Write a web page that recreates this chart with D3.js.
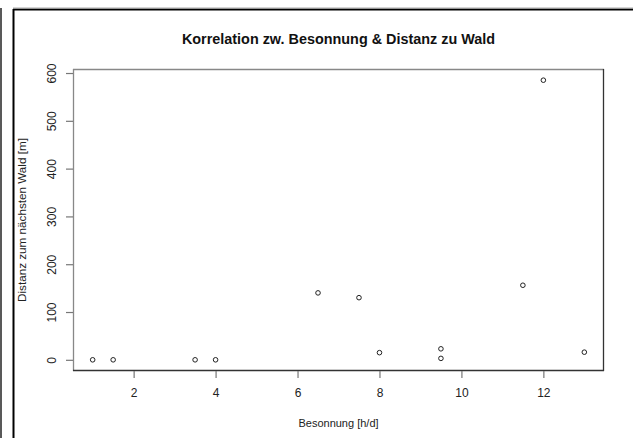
<!DOCTYPE html>
<html>
<head>
<meta charset="utf-8">
<script src="https://cdn.jsdelivr.net/npm/d3@7"></script>
<style>
  html, body { margin: 0; padding: 0; background: #fff; }
  svg { display: block; font-family: "Liberation Sans", Arial, sans-serif; }
</style>
</head>
<body>
<svg id="chart" width="633" height="438"></svg>
<script>
// Data
const besonnung = [1, 1.5, 3.5, 4, 6.5, 7.5, 8, 9.5, 9.5, 11.5, 12, 13];
const distanz   = [0, 0, 0, 0, 140, 130, 15, 23, 3, 156, 585, 16];
const xTicks = [2, 4, 6, 8, 10, 12];
const yTicks = [0, 100, 200, 300, 400, 500, 600];
const title = "Korrelation zw. Besonnung & Distanz zu Wald";
const xLabel = "Besonnung [h/d]";
const yLabel = "Distanz zum nächsten Wald [m]";

const svg = d3.select("#chart");
const W = 633, H = 438;
const plot = { left: 73, right: 604, top: 69, bottom: 371 };

// outer frame lines (screenshot border)
svg.append("line").attr("x1", 1).attr("x2", 1).attr("y1", 8).attr("y2", H)
  .attr("stroke", "#222").attr("stroke-width", 1.5);
svg.append("line").attr("x1", 13.5).attr("x2", 13.5).attr("y1", 9).attr("y2", H)
  .attr("stroke", "#000").attr("stroke-width", 2);
svg.append("line").attr("x1", 13).attr("x2", W).attr("y1", 9.5).attr("y2", 9.5)
  .attr("stroke", "#000").attr("stroke-width", 2);
svg.append("line").attr("x1", 13).attr("x2", W).attr("y1", 8).attr("y2", 8)
  .attr("stroke", "#aaa").attr("stroke-width", 1);

// R-style 4% extension
const xr = d3.extent(besonnung), yr = d3.extent(distanz);
const xpad = (xr[1] - xr[0]) * 0.04, ypad = (yr[1] - yr[0]) * 0.04;
const x = d3.scaleLinear().domain([xr[0] - xpad, xr[1] + xpad]).range([plot.left, plot.right]);
const y = d3.scaleLinear().domain([yr[0] - ypad, yr[1] + ypad]).range([plot.bottom, plot.top]);

// plot box
svg.append("line").attr("x1", plot.left).attr("x2", plot.right).attr("y1", plot.top + 0.5).attr("y2", plot.top + 0.5)
  .attr("stroke", "#888").attr("stroke-width", 1.3);
svg.append("line").attr("x1", plot.left + 0.5).attr("x2", plot.left + 0.5).attr("y1", plot.top).attr("y2", plot.bottom)
  .attr("stroke", "#888").attr("stroke-width", 1.3);
svg.append("line").attr("x1", plot.right - 0.5).attr("x2", plot.right - 0.5).attr("y1", plot.top).attr("y2", plot.bottom)
  .attr("stroke", "#333").attr("stroke-width", 1.3);
svg.append("line").attr("x1", plot.left).attr("x2", plot.right).attr("y1", plot.bottom - 0.5).attr("y2", plot.bottom - 0.5)
  .attr("stroke", "#333").attr("stroke-width", 1.3);

// x axis
const xAxis = svg.append("g").attr("transform", `translate(0,${plot.bottom})`)
  .call(d3.axisBottom(x).tickValues(xTicks).tickSize(7).tickPadding(10).tickFormat(d3.format("d")));
xAxis.select(".domain").remove();
xAxis.selectAll(".tick line").attr("stroke", "#777").attr("stroke-width", 1.2);
xAxis.selectAll(".tick text").attr("fill", "#222").attr("font-size", "12px")
  .attr("font-family", "Liberation Sans, Arial, sans-serif");

// y axis
const yAxis = svg.append("g").attr("transform", `translate(${plot.left},0)`)
  .call(d3.axisLeft(y).tickValues(yTicks).tickSize(7).tickFormat(d3.format("d")));
yAxis.select(".domain").remove();
yAxis.selectAll(".tick line").attr("stroke", "#777").attr("stroke-width", 1.2);
yAxis.selectAll(".tick text").remove();
yAxis.selectAll(".tick").append("text")
  .attr("transform", "translate(-17,0) rotate(-90)")
  .attr("text-anchor", "middle")
  .attr("fill", "#222").attr("font-size", "12px")
  .attr("font-family", "Liberation Sans, Arial, sans-serif")
  .text(d => d);

// points
svg.append("g").selectAll("circle").data(besonnung.map((b, i) => [b, distanz[i]]))
  .join("circle")
  .attr("cx", d => x(d[0])).attr("cy", d => y(d[1]))
  .attr("r", 2.3).attr("fill", "none").attr("stroke", "#222").attr("stroke-width", 1);

// title
svg.append("text").attr("x", (plot.left + plot.right) / 2).attr("y", 44)
  .attr("text-anchor", "middle").attr("font-weight", "bold").attr("font-size", "14.4px")
  .attr("fill", "#111").text(title);

// axis labels
svg.append("text").attr("x", (plot.left + plot.right) / 2).attr("y", 427)
  .attr("text-anchor", "middle").attr("font-size", "11px").attr("fill", "#222").text(xLabel);
svg.append("text").attr("transform", `translate(26,${(plot.top + plot.bottom) / 2}) rotate(-90)`)
  .attr("text-anchor", "middle").attr("font-size", "11.7px").attr("fill", "#222").text(yLabel);
</script>
</body>
</html>
